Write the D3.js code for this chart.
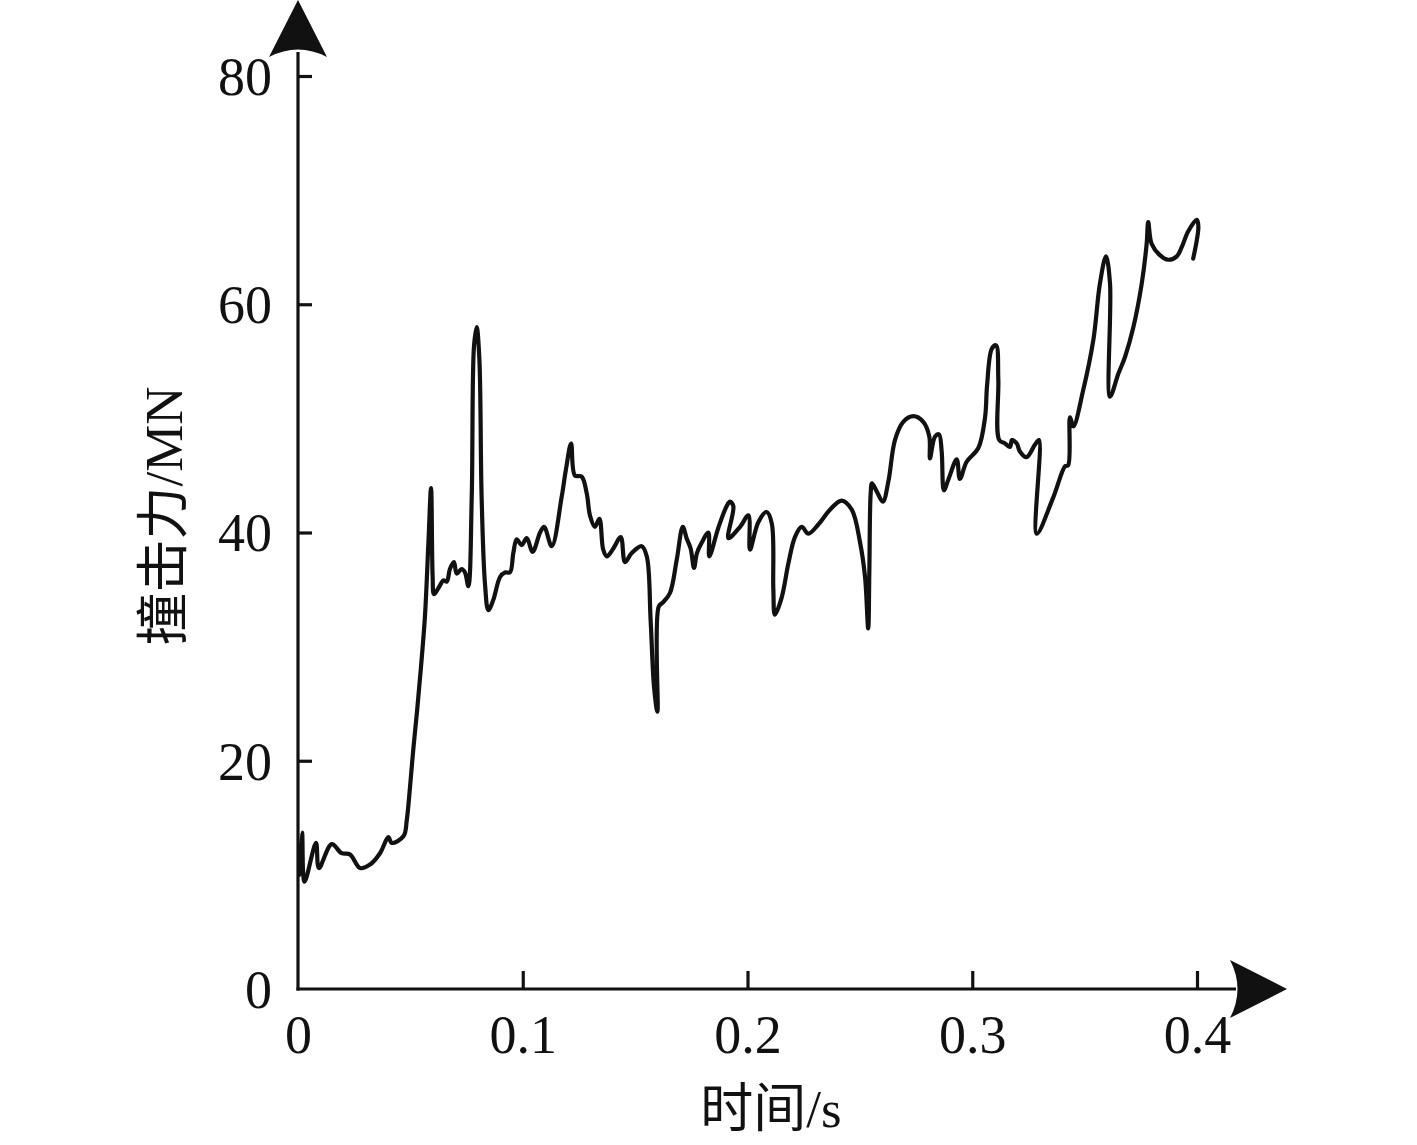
<!DOCTYPE html>
<html><head><meta charset="utf-8">
<script src="https://cdn.jsdelivr.net/npm/d3@7"></script>
<style>
html,body{margin:0;padding:0;background:#fff;}
svg{display:block;}
.tick text{font-family:"Liberation Serif","Times New Roman",serif;font-size:54px;fill:#111;}
</style></head>
<body>
<svg id="chart" width="1417" height="1145"></svg>
<script>
// time (s)
const timeS = [0.0005,0.0018,0.0029,0.0080,0.0093,0.0150,0.0194,0.0231,0.0276,0.0320,0.0365,0.0402,0.0417,0.0470,
0.0484,0.0498,0.0513,0.0530,0.0548,0.0565,0.0580,0.0592,0.0599,0.0605,0.0624,0.0647,0.0662,0.0676,0.0694,0.0706,0.0728,0.0743,0.0758,
0.0773,0.0783,0.0795,0.0807,0.0817,0.0832,0.0847,0.0869,0.0899,0.0921,0.0943,0.0958,0.0973,0.0995,0.1018,0.1044,
0.1077,0.1095,0.1129,0.1173,0.1192,0.1215,0.1232,0.1262,0.1285,0.1299,0.1321,0.1341,0.1358,0.1374,0.1403,0.1436,
0.1455,0.1485,0.1529,0.1552,0.1569,0.1584,0.1599,0.1605,0.1625,0.1655,0.1685,0.1712,0.1729,0.1747,0.1762,0.1775,
0.1796,0.1826,0.1830,0.1870,0.1907,0.1922,0.1937,0.1915,0.1967,0.2004,0.2011,0.2048,0.2085,0.2108,0.2115,0.2122,
0.2152,0.2182,0.2211,0.2241,0.2271,0.2315,0.2367,0.2419,0.2464,0.2501,0.2523,0.2537,0.2542,0.2548,0.2554,0.2575,
0.2602,0.2627,0.2656,0.2693,0.2738,0.2782,0.2809,0.2812,0.2834,0.2852,0.2864,0.2874,0.2893,0.2931,0.2945,0.2975,
0.3027,0.3057,0.3066,0.3087,0.3106,0.3116,0.3120,0.3146,0.3168,0.3177,0.3198,0.3212,0.3242,0.3279,0.3297,0.3287,
0.3361,0.3413,0.3427,0.3435,0.3450,0.3494,0.3539,0.3568,0.3595,0.3613,0.3613,0.3650,0.3680,0.3717,0.3754,0.3776,
0.3783,0.3798,0.3835,0.3872,0.3910,0.3932,0.3961,0.3999,0.4006,0.3983];
// impact force (MN)
const forceMN = [10.0,13.7,9.4,12.8,10.6,12.7,11.9,11.8,10.6,10.9,11.9,13.3,12.8,13.4,
14.8,17.6,21.0,24.4,28.4,32.7,39.0,43.9,36.2,34.6,35.1,35.8,35.7,36.8,37.4,36.4,36.8,36.5,35.3,
43.1,56.3,58.0,55.2,43.1,35.5,33.2,34.1,36.1,36.5,36.5,38.2,39.4,38.9,39.5,38.3,
40.0,40.5,38.8,43.1,45.5,47.8,45.0,44.9,43.4,41.5,40.5,41.2,38.5,37.9,38.6,39.6,
37.4,38.2,38.8,37.9,32.3,26.5,24.3,33.5,33.9,34.7,37.6,40.5,39.5,38.6,36.9,38.2,
39.1,40.0,37.9,40.4,42.3,42.7,42.3,39.5,40.5,41.5,38.5,40.9,41.8,40.8,35.0,32.8,
34.3,37.3,39.6,40.5,39.9,40.7,42.0,42.8,42.0,39.1,36.1,31.6,36.4,43.4,44.3,43.6,
42.7,44.5,48.1,49.7,50.2,49.7,48.4,46.5,48.4,48.6,47.1,43.7,44.6,46.4,44.7,46.2,
47.4,50.1,52.9,56.1,56.4,53.4,48.1,47.8,47.5,48.1,47.8,47.1,46.6,47.7,48.1,39.9,
43.1,45.8,45.9,50.1,49.3,52.5,56.9,61.8,64.2,61.8,51.9,53.9,55.4,58.0,61.8,65.3,
67.2,65.3,64.3,63.9,64.2,65.0,66.4,67.4,66.8,64.0];
const xTicks = [0, 0.1, 0.2, 0.3, 0.4];
const xTickLabels = ["0", "0.1", "0.2", "0.3", "0.4"];
const yTicks = [0, 20, 40, 60, 80];
const yTickLabels = ["0", "20", "40", "60", "80"];
const xTitle = "时间/s";
const yTitle = "撞击力/MN";

const svg = d3.select("#chart");
const x = d3.scaleLinear().domain([0, 0.4]).range([298, 1197]);
const y = d3.scaleLinear().domain([0, 80]).range([989, 76]);
const ink = "#111";

// axes ticks
const xAxis = d3.axisBottom(x).tickValues(xTicks).tickFormat((d,i)=>xTickLabels[i])
  .tickSizeInner(-18).tickSizeOuter(0).tickPadding(26);
const gx = svg.append("g").attr("transform", `translate(0,${y(0)})`).call(xAxis);
gx.select(".domain").remove();
gx.selectAll(".tick line").attr("stroke", ink).attr("stroke-width", 3.2);
gx.selectAll(".tick").filter(d => d === 0).select("line").remove();

const yAxis = d3.axisLeft(y).tickValues(yTicks).tickFormat((d,i)=>yTickLabels[i])
  .tickSizeInner(-14).tickSizeOuter(0).tickPadding(26);
const gy = svg.append("g").attr("transform", `translate(${x(0)},0)`).call(yAxis);
gy.select(".domain").remove();
gy.selectAll(".tick line").attr("stroke", ink).attr("stroke-width", 3.2);
gy.selectAll(".tick").filter(d => d === 0).select("line").remove();
gy.selectAll(".tick text").attr("dy", "0.34em");

// axis lines
const x0 = x(0), y0 = y(0);
svg.append("line").attr("x1", x0).attr("y1", y0 + 1.6).attr("x2", x0).attr("y2", 52)
  .attr("stroke", ink).attr("stroke-width", 3.2);
svg.append("line").attr("x1", x0 - 1.6).attr("y1", y0).attr("x2", 1236).attr("y2", y0)
  .attr("stroke", ink).attr("stroke-width", 3.2);

// arrow heads
svg.append("path")
  .attr("d", `M${x0},0 L${x0+29},57 Q${x0},42 ${x0-29},57 Z`)
  .attr("fill", ink);
svg.append("path")
  .attr("d", `M1287,${y0} L1230,${y0-29} Q1245,${y0} 1230,${y0+29} Z`)
  .attr("fill", ink);

// titles
svg.append("text").attr("x", 771).attr("y", 1127).attr("text-anchor", "middle")
  .attr("font-family", '"Liberation Serif","Noto Sans CJK SC",serif').attr("font-size", 53).attr("fill", ink)
  .text(xTitle);
svg.append("text").attr("transform", `translate(182,516) rotate(-90)`).attr("text-anchor", "middle")
  .attr("font-family", '"Liberation Serif","Noto Sans CJK SC",serif').attr("font-size", 53).attr("fill", ink)
  .text(yTitle);

// curve
const pts = timeS.map((t, i) => [t, forceMN[i]]);
const line = d3.line().x(d => x(d[0])).y(d => y(d[1])).curve(d3.curveCatmullRom.alpha(0.5));
svg.append("path").datum(pts).attr("d", line)
  .attr("fill", "none").attr("stroke", ink).attr("stroke-width", 4.2)
  .attr("stroke-linejoin", "round").attr("stroke-linecap", "round");
</script>
</body></html>
